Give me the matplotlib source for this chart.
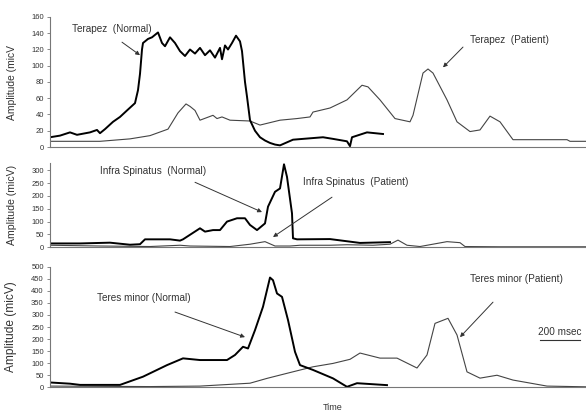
import matplotlib.pyplot as plt

# time in msec, amplitude in micV
tr_norm_t = [0, 50, 100, 135, 200, 235, 250, 275, 315, 350, 385, 425, 440, 450, 460, 465, 490, 510,
             540, 560, 575, 600, 625, 650, 675, 700, 725, 750, 775, 800, 825, 850, 860, 875, 890, 910,
             930, 950, 960, 975, 985, 1000, 1025, 1050, 1075, 1100, 1125, 1150, 1215, 1315, 1365,
             1415, 1485, 1500, 1510, 1585, 1665]
tr_norm_v = [12, 14, 18, 15, 18, 21, 17, 22, 31, 37, 45, 54, 70, 90, 120, 128, 133, 135,
             141, 128, 124, 135, 128, 118, 112, 120, 115, 122, 113, 119, 110, 122, 108, 125, 120, 128,
             137, 130, 118, 80, 62, 33, 20, 12, 8, 5, 3, 2, 9, 11, 12,
             10, 7, 1, 12, 18, 16]
tr_pat_t = [0, 250, 400, 500, 590, 640, 680, 700, 725, 750, 815, 835, 860, 900, 1000, 1050,
            1150, 1235, 1300, 1315, 1400, 1485, 1560, 1590, 1650, 1725, 1800, 1815, 1865, 1890,
            1915, 1985, 2035, 2100, 2150, 2200, 2250, 2315, 2585, 2600, 2680]
tr_pat_v = [7, 7, 10, 14, 22, 42, 53, 50, 45, 33, 39, 35, 37, 33, 32, 27,
            33, 35, 37, 43, 48, 58, 76, 74, 58, 35, 31, 39, 91, 96,
            91, 58, 31, 19, 21, 38, 31, 9, 9, 7, 7]

is_norm_t = [0, 150, 300, 400, 450, 475, 600, 650, 665, 750, 775, 815, 850, 885, 935, 975, 1000,
             1035, 1075, 1090, 1125, 1150, 1170, 1185, 1210, 1215, 1235, 1400, 1550, 1700]
is_norm_v = [15, 15, 18, 10, 12, 31, 31, 26, 31, 74, 61, 67, 67, 100, 113, 113, 87,
             67, 93, 158, 216, 229, 323, 274, 132, 35, 31, 32, 17, 20]
is_pat_t = [0, 250, 500, 650, 700, 900, 1000, 1075, 1125, 1200, 1250, 1400, 1485, 1615, 1700, 1740,
            1785, 1850, 1985, 2050, 2075, 2250, 2680]
is_pat_v = [8, 5, 3, 8, 5, 3, 12, 22, 5, 5, 8, 8, 10, 8, 12, 28,
            8, 3, 22, 18, 3, 2, 2]

tm_norm_t = [0, 100, 150, 250, 350, 465, 585, 665, 750, 885, 925, 965, 990, 1025, 1065, 1100,
             1115, 1135, 1160, 1190, 1225, 1250, 1315, 1415, 1485, 1535, 1685]
tm_norm_v = [20, 15, 10, 10, 10, 44, 92, 120, 113, 113, 134, 168, 161, 237, 334, 455,
             444, 389, 375, 279, 147, 92, 72, 37, 2, 17, 9]
tm_pat_t = [0, 500, 750, 1000, 1085, 1185, 1315, 1415, 1500, 1550, 1650, 1735, 1835,
            1885, 1925, 1990, 2035, 2085, 2150, 2235, 2315, 2485, 2680]
tm_pat_v = [5, 3, 5, 17, 37, 58, 85, 99, 116, 142, 121, 121, 80,
            134, 265, 286, 217, 64, 38, 50, 30, 5, 2]

plt.rcParams['font.family'] = ['Liberation Sans', 'DejaVu Sans']

fig = plt.figure(figsize=(5.86, 4.12), dpi=100)
W, H = 586.0, 412.0

def make_ax(top, bottom, ymax, ticks):
    ax = fig.add_axes([50 / W, 1 - bottom / H, 536 / W, (bottom - top) / H])
    ax.set_xlim(0, 2680)
    ax.set_ylim(0, ymax)
    ax.set_yticks(ticks)
    ax.set_xticks([])
    for s in ['top', 'right']:
        ax.spines[s].set_visible(False)
    for s in ['left', 'bottom']:
        ax.spines[s].set_color('#777777')
        ax.spines[s].set_linewidth(0.8)
    ax.tick_params(axis='y', labelsize=5.5, length=2.5, width=0.6, color='#777777',
                   labelcolor='#333333', pad=2)
    ax.set_facecolor('none')
    return ax

ax1 = make_ax(17, 147, 160, range(0, 161, 20))
ax2 = make_ax(162.5, 247.3, 330, range(0, 301, 50))
ax3 = make_ax(266.7, 387.3, 500, range(0, 501, 50))

thick = dict(color='black', lw=1.4)
thin = dict(color='#444444', lw=0.8)

ax1.plot(tr_pat_t, tr_pat_v, **thin)
ax1.plot(tr_norm_t, tr_norm_v, **thick)
ax2.plot(is_pat_t, is_pat_v, **thin)
ax2.plot(is_norm_t, is_norm_v, **thick)
ax3.plot(tm_pat_t, tm_pat_v, **thin)
ax3.plot(tm_norm_t, tm_norm_v, **thick)

labels = ['Amplitude (micV', 'Amplitude (micV)', 'Amplitude (micV)']
sizes = [7.4, 7.6, 8.6]
for ax, lab, fs in zip([ax1, ax2, ax3], labels, sizes):
    ax.set_ylabel(lab, fontsize=fs, color='#333333')
    ax.yaxis.set_label_coords(-0.062, 0.5)

txt = dict(fontsize=7.2, color='#333333', va='center', ha='left')
arr = dict(arrowstyle='-|>', color='#333333', lw=0.7, mutation_scale=6, shrinkA=0, shrinkB=0)

ax1.text(110, 145, 'Terapez  (Normal)', **txt)
ax1.annotate('', xy=(450, 113), xytext=(360, 129), arrowprops=arr)
ax1.text(2100, 132, 'Terapez  (Patient)', **txt)
ax1.annotate('', xy=(1965, 98), xytext=(2065, 123), arrowprops=arr)

ax2.text(250, 296, 'Infra Spinatus  (Normal)', **txt)
ax2.annotate('', xy=(1060, 137), xytext=(725, 253), arrowprops=arr)
ax2.text(1265, 253, 'Infra Spinatus  (Patient)', **txt)
ax2.annotate('', xy=(1115, 40), xytext=(1410, 195), arrowprops=arr)

ax3.text(235, 370, 'Teres minor (Normal)', **txt)
ax3.annotate('', xy=(975, 208), xytext=(625, 312), arrowprops=arr)
ax3.text(2100, 448, 'Teres minor (Patient)', **txt)
ax3.annotate('', xy=(2050, 208), xytext=(2215, 353), arrowprops=arr)

# 200 msec scale bar
ax3.plot([2450, 2650], [196, 196], color='#333333', lw=0.8)
ax3.text(2550, 229, '200 msec', fontsize=7.2, color='#333333', ha='center', va='center')

fig.text(333 / W, 1 - 407 / H, 'Time', fontsize=6.5, color='#333333', ha='center', va='center')

fig.savefig('out.png', dpi=100)
